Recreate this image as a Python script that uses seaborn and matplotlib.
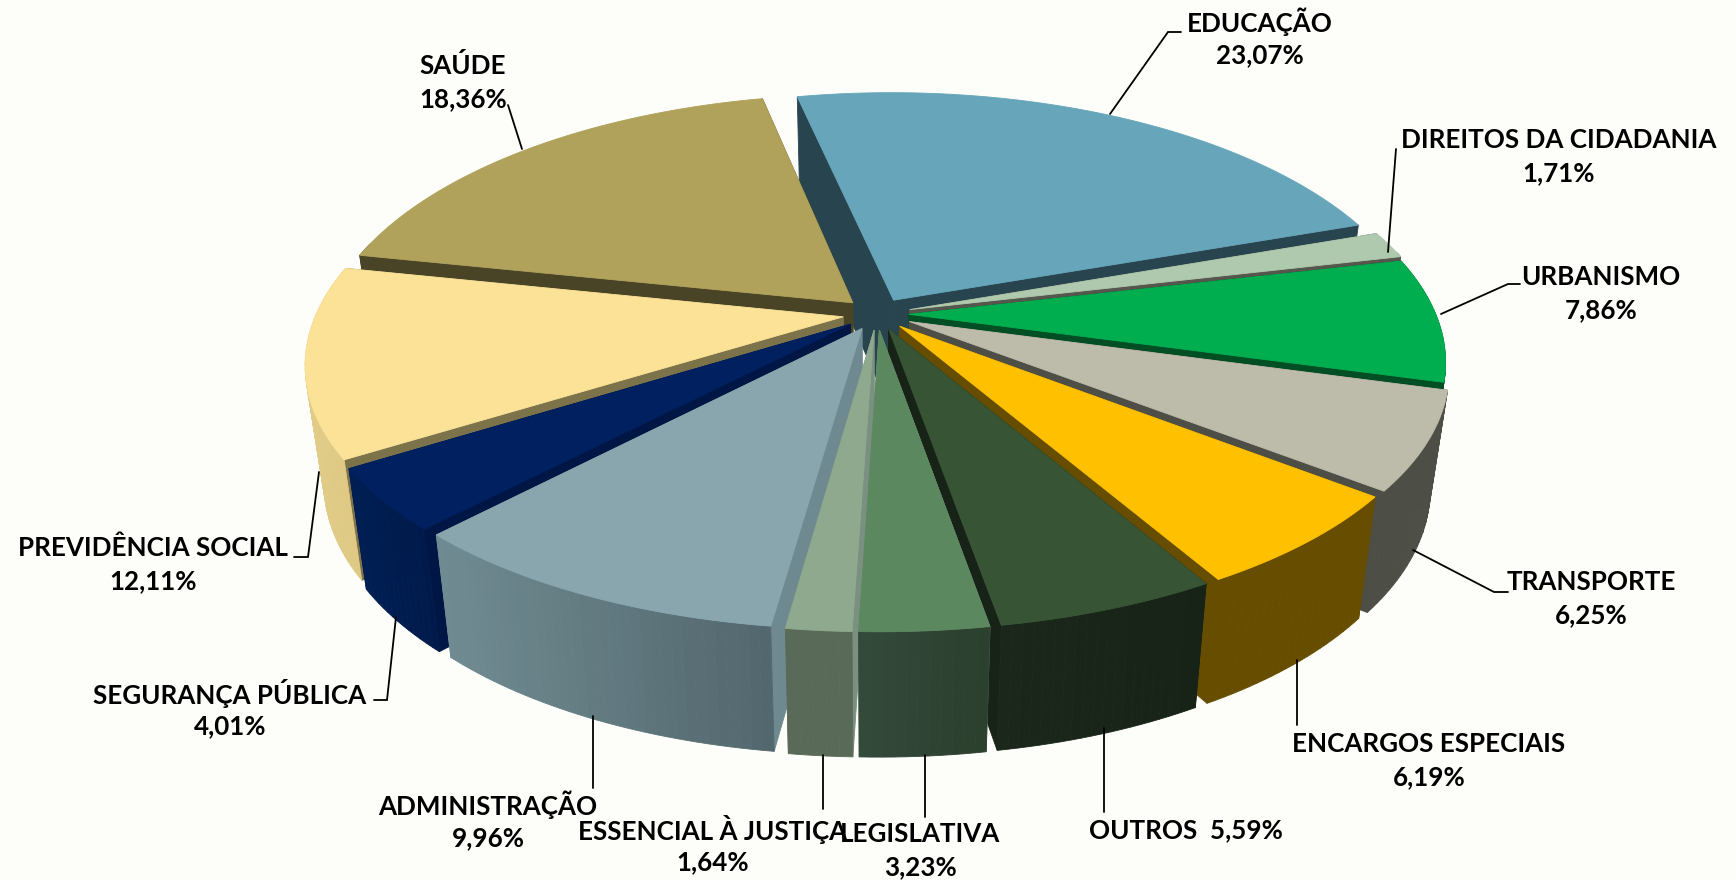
import numpy as np
import matplotlib
matplotlib.use('agg')
import matplotlib.pyplot as plt
import seaborn as sns

# data
categories = ["EDUCAÇÃO", "DIREITOS DA CIDADANIA", "URBANISMO", "TRANSPORTE", "ENCARGOS ESPECIAIS", "OUTROS",
              "LEGISLATIVA", "ESSENCIAL À JUSTIÇA", "ADMINISTRAÇÃO", "SEGURANÇA PÚBLICA", "PREVIDÊNCIA SOCIAL", "SAÚDE"]
shares = [23.07, 1.71, 7.86, 6.25, 6.19, 5.59, 3.23, 1.64, 9.96, 4.01, 12.11, 18.36]

top_colors = ["#66A5BA", "#AEC9AE", "#00AE50", "#BDBBAA", "#FFC000", "#375535",
              "#5C8860", "#8EA98E", "#89A6AF", "#002060", "#FBE297", "#B0A15B"]
cut_colors = ["#28444F", "#55564C", "#004F24", "#4D4E45", "#664D00", "#182318",
              "#7D9583", "#7A9080", "#6F8990", "#001645", "#7D734A", "#4A4426"]
wall_left = ["#28444F", "#55564C", "#004F24", "#4D4E45", "#664D00", "#1A271A",
             "#33493A", "#5A6A58", "#6F8B91", "#001F54", "#E0CB88", "#4A4426"]
wall_right = ["#28444F", "#55564C", "#004F24", "#4D4E45", "#664D00", "#182318",
              "#2C3F2D", "#5A6A58", "#52666D", "#001A4A", "#DFC983", "#4A4426"]
explode = [0.065, 0.065, 0.06, 0.068, 0.065, 0.065, 0.065, 0.065, 0.065, 0.065, 0.065, 0.065]

# (text x, first line y) of each label and its leader line
label_pos = [(1260, 22), (1559, 140), (1601, 277), (1591, 582), (1429, 744), (1186, 830),
             (920, 834), (713, 829), (488, 805), (230, 693), (153, 548), (463, 66)]
leaders = [[(1110, 114), (1168, 32), (1181, 32)],
           [(1388, 252), (1396, 149)],
           [(1441, 314), (1508, 284), (1520, 284)],
           [(1413, 550), (1494, 592), (1508, 592)],
           [(1297, 660), (1297, 725)],
           [(1104, 728), (1104, 812)],
           [(925, 755), (925, 817)],
           [(823, 755), (823, 809)],
           [(593, 716), (593, 788)],
           [(396, 617), (387, 700), (374, 700)],
           [(319, 472), (308, 557), (294, 557)],
           [(522, 149), (508, 105)]]

BG = "#FDFEF9"
CX, CY = 877, 314          # screen centre of the pie
A, B = 527, 246            # half axes of the top face
K = 0.165                  # perspective strength, depth
KX = 0.18                  # perspective strength, width
DEPTH = 116
SHRINK = 0.967
START = 102.2


def project(x, y):
    return CX + A * x / (1 + KX * y), CY - B * y / (1 + K * y)


def drop(sx, sy):
    # wall bottom for a point of the top face
    w = 1 / (1 - K * (CY - sy) / B)
    return CX + (sx - CX) * SHRINK, sy + DEPTH * w ** -0.4


def fill(ax, xs, ys, color, z):
    ax.fill(xs, ys, color=color, lw=0.6, zorder=z)


sns.set_theme(style="white")
plt.rcParams['font.family'] = ['Lato', 'DejaVu Sans']

fig = plt.figure(figsize=(17.36, 8.8), dpi=100, facecolor=BG)
ax = fig.add_axes([0, 0, 1, 1], facecolor=BG)
ax.set_xlim(0, 1736)
ax.set_ylim(880, 0)
ax.axis("off")

total = sum(shares)
angles = START - np.cumsum([0] + shares) / total * 360
mids = (angles[:-1] + angles[1:]) / 2
order = np.argsort(-np.sin(np.radians(mids)))

for z, i in enumerate(order):
    a0, a1 = np.radians(angles[i]), np.radians(angles[i + 1])
    mid = np.radians(mids[i])
    ox, oy = explode[i] * np.cos(mid), explode[i] * np.sin(mid)
    th = np.linspace(a0, a1, max(int(abs(np.degrees(a1 - a0))), 4) + 1)
    sx, sy = project(ox + np.cos(th), oy + np.sin(th))
    px, py = project(ox, oy)
    bx, by = drop(sx, sy)
    pbx, pby = drop(px, py)

    base = z * 10
    # the two cut faces
    fill(ax, [px, sx[0], bx[0], pbx], [py, sy[0], by[0], pby], cut_colors[i], base)
    fill(ax, [px, sx[-1], bx[-1], pbx], [py, sy[-1], by[-1], pby], cut_colors[i], base + 1)
    # outer wall, shaded from left to right on screen
    shades = sns.blend_palette([wall_left[i], wall_right[i]], 40)
    for j in range(len(th) - 1):
        mid_x = (sx[j] + sx[j + 1]) / 2
        t = np.clip((mid_x - sx.min()) / max(np.ptp(sx), 1), 0, 1)
        # only walls that face the viewer
        if np.sin((th[j] + th[j + 1]) / 2) < 0.25:
            fill(ax, [sx[j], sx[j + 1], bx[j + 1], bx[j]], [sy[j], sy[j + 1], by[j + 1], by[j]],
                 shades[int(t * 39)], base + 2)
    # top face
    fill(ax, np.r_[px, sx], np.r_[py, sy], top_colors[i], base + 3)

for i, name in enumerate(categories):
    xs, ys = zip(*leaders[i])
    ax.plot(xs, ys, color="black", lw=1.3, zorder=500, solid_joinstyle="miter")
    tx, ty = label_pos[i]
    pct = f"{shares[i]:.2f}%".replace(".", ",")
    if name == "OUTROS":
        ax.text(tx, ty, f"{name}  {pct}", ha="center", va="center", fontsize=18.7, fontweight="bold", color="black", zorder=600)
    else:
        ax.text(tx, ty, name, ha="center", va="center", fontsize=18.7, fontweight="bold", color="black", zorder=600)
        ax.text(tx, ty + 33, pct, ha="center", va="center", fontsize=18.7, fontweight="bold", color="black", zorder=600)

fig.savefig("out.png", dpi=100, facecolor=BG)
